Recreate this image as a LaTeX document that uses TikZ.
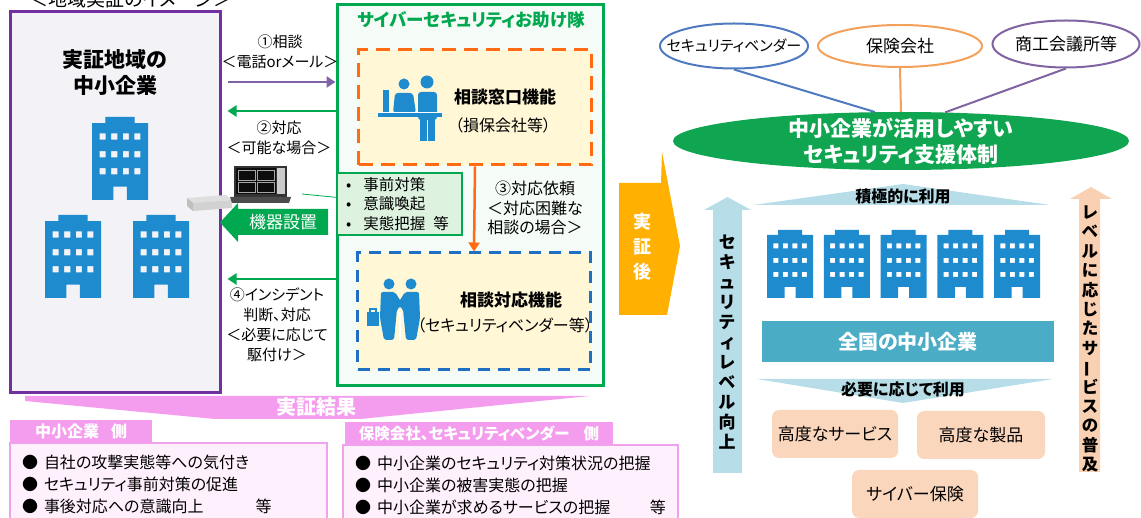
\documentclass[tikz,border=0pt]{standalone}
\usepackage{fontspec}
\setmainfont{Noto Sans CJK JP}[RawFeature=+palt]
\usetikzlibrary{arrows.meta,shapes.geometric,positioning,calc}
\definecolor{smeViolet}{HTML}{7030A0}
\definecolor{smeFill}{HTML}{F3F3F7}
\definecolor{callViolet}{HTML}{7F62A8}
\definecolor{aidGreen}{HTML}{00A84F}
\definecolor{aidFill}{HTML}{F5FBF6}
\definecolor{noteGreen}{HTML}{DDF3E0}
\definecolor{deskOrange}{HTML}{FF6A13}
\definecolor{deskBlue}{HTML}{1F6FC3}
\definecolor{deskFill}{HTML}{FFF7D6}
\definecolor{bldgBlue}{HTML}{1E8BCF}
\definecolor{resPink}{HTML}{F49DEE}
\definecolor{resFill}{HTML}{FFF0FE}
\definecolor{resLine}{HTML}{EFA3EC}
\definecolor{afterGold}{HTML}{FFB000}
\definecolor{vendorBlue}{HTML}{4F7AC0}
\definecolor{insOrange}{HTML}{F2A05A}
\definecolor{chamberViolet}{HTML}{8064A2}
\definecolor{baseGreen}{HTML}{10A550}
\definecolor{skyBlue}{HTML}{B7DEE8}
\definecolor{barTeal}{HTML}{4BACC6}
\definecolor{peach}{HTML}{FAD6BD}
\definecolor{arrowPeach}{HTML}{F9D0B2}

\begin{document}
\begin{tikzpicture}[x=1pt, y=-1pt,
    panel/.style={draw, line width=3pt, inner sep=0pt},
    desk/.style={draw, dash pattern=on 14pt off 8pt, line width=3pt, fill=deskFill,
      minimum width=233pt, minimum height=115pt, inner sep=0pt},
    lbl/.style={font=\fontsize{15}{20}\selectfont, align=center, inner sep=0pt},
    call/.style={line width=2.5pt, -{Triangle[length=9pt, width=11pt]}},
    icon/.style={fill=bldgBlue},
    resbox/.style={font=\fontsize{16}{22}\selectfont, align=left, inner xsep=12pt, inner ysep=0pt,
      fill=resFill, draw=resLine, line width=2.5pt},
    sidetab/.style={fill=resPink, text=white, font=\bfseries\fontsize{16}{16}\selectfont, inner sep=0pt},
    party/.style={ellipse, draw, line width=2pt, font=\fontsize{17}{17}\selectfont, inner sep=0pt},
    offer/.style={rounded corners=7pt, fill=peach, font=\fontsize{17}{17}\selectfont,
      minimum width=126pt, minimum height=48pt, inner sep=0pt},
    vtext/.style={font=\bfseries\fontsize{17}{20}\selectfont, align=center, inner sep=0pt},
    office/.pic={
      \fill[bldgBlue, even odd rule] (0,5) -- (11,5) -- (11,0) -- (35,0) -- (35,5) -- (46,5)
        -- (46,68) -- (28.5,68) -- (28.5,57) -- (17.5,57) -- (17.5,68) -- (0,68) -- cycle
        foreach \r in {13.5,28,42} {foreach \c in {6.25,15.75,25.25,34.75} {(\c,\r) rectangle ++(5,5)}};
    }
  ]
  \useasboundingbox (0,0) rectangle (1141,518);
  \clip (0,0) rectangle (1141,518);

  \node[font=\fontsize{19}{19}\selectfont, inner sep=0pt] (title) at (131,-1) {＜地域実証のイメージ＞};

  % regional SMEs
  \node[panel, draw=smeViolet, fill=smeFill, minimum width=210pt, minimum height=381pt] (sme) at (115,202.5) {};
  \node[font=\bfseries\fontsize{21}{26}\selectfont, align=center, inner sep=0pt] (smetitle) at (115,73) {実証地域の\\中小企業};
  \pic[scale=1.22] (co1) at (92,117) {office};
  \pic[scale=1.22] (co2) at (45,215) {office};
  \pic[scale=1.22] (co3) at (133,215) {office};

  % help team
  \node[panel, draw=aidGreen, fill=aidFill, minimum width=266pt, minimum height=381pt] (aid) at (470,195.5) {};
  \node[font=\bfseries\fontsize{17.5}{17.5}\selectfont, text=aidGreen, inner sep=0pt] (aidtitle) at (471,20) {サイバーセキュリティお助け隊};
  \node[desk, draw=deskOrange] (helpdesk) at (475,107.5) {};
  \node[desk, draw=deskBlue, dash pattern=on 12pt off 8pt, minimum height=117pt] (respond) at (474,311.5) {};
  \node[font=\bfseries\fontsize{17}{17}\selectfont, inner sep=0pt] (helpname) at (505,97) {相談窓口機能};
  \node[font=\fontsize{16}{16}\selectfont, inner sep=0pt] (helpwho) at (503,125) {（損保会社等）};
  \node[font=\bfseries\fontsize{17}{17}\selectfont, inner sep=0pt] (respname) at (511,300) {相談対応機能};
  \node[font=\fontsize{16}{16}\selectfont, inner sep=0pt] (respwho) at (505,325) {（セキュリティベンダー等）};

  % counter icon
  \fill[icon] (383,90) rectangle (389,113);
  \fill[icon] (404,84) circle (5.5);
  \fill[icon, rounded corners=3pt] (395,93) -- (413,93) -- (416,113) -- (393,113) -- cycle;
  \fill[icon] (427,82) circle (6.5);
  \fill[icon, rounded corners=3pt] (418,92) rectangle (437,120);
  \fill[icon] (420,116) rectangle (426.5,141);
  \fill[icon] (428,116) rectangle (434.5,141);
  \fill[white] (376,112) rectangle (444,113.5);
  \fill[icon] (378,113.5) rectangle (442,117);

  % handshake icon
  \fill[icon] (389,284) circle (5.5);
  \fill[icon] (411,284) circle (5.5);
  \fill[icon, rounded corners=2pt] (381,292) -- (395,292) -- (403,305) -- (397,309) -- (394,340) -- (384,340) -- (380,318) -- cycle;
  \fill[icon, rounded corners=2pt] (419,292) -- (405,292) -- (397,305) -- (403,309) -- (406,340) -- (416,340) -- (420,318) -- cycle;
  \fill[white] (399.3,312) rectangle (400.7,341);
  \fill[icon] (367,312) rectangle (379,326);
  \draw[bldgBlue, line width=1.2pt] (370,312) -- (370,309) -- (376,309) -- (376,312);

  \draw[call, draw=deskOrange] (helpdesk.south) -- (respond.north);
  \node[font=\fontsize{16}{19.5}\selectfont, align=center, inner sep=0pt] (escalate) at (535,208) {③対応依頼\\＜対応困難な\\相談の場合＞};
  \node[draw=aidGreen, line width=1.2pt, fill=noteGreen, minimum width=125pt, minimum height=62pt,
    text width=107pt, inner xsep=9pt, inner ysep=0pt, align=left, font=\fontsize{15.5}{19.5}\selectfont] (notes) at (399.5,204)
    {•\hspace{12pt}事前対策\\•\hspace{12pt}意識喚起\\•\hspace{12pt}実態把握\hspace{8pt}等};

  % requests and replies
  \draw[call, draw=callViolet, shorten <=6pt] (sme.east |- 0,82) -- (aid.west |- 0,82);
  \draw[call, draw=aidGreen, shorten >=6pt] (aid.west |- 0,111) -- (sme.east |- 0,111);
  \draw[call, draw=aidGreen, shorten >=6pt] (aid.west |- 0,279) -- (sme.east |- 0,279);
  \node[lbl] (ask) at (280,52) {①相談\\＜電話orメール＞};
  \node[lbl] (reply) at (279,138) {②対応\\＜可能な場合＞};
  \node[lbl] (incident) at (277,325) {④インシデント\\判断、対応\\＜必要に応じて\\駆付け＞};

  % measuring device and laptop
  \fill[gray!25] (187,198) -- (226,195) -- (232,200) -- (193,203) -- cycle;
  \fill[gray!50] (187,198) -- (193,203) -- (193,211) -- (187,206) -- cycle;
  \fill[gray!35] (193,203) -- (232,200) -- (232,208) -- (193,211) -- cycle;
  \fill[black!80] (234,166) rectangle (287,197);
  \fill[black!95] (236,168) rectangle (276,194);
  \draw[gray!70, line width=0.5pt] (238,170) rectangle (255,180) (257,170) rectangle (274,180)
    (238,182) rectangle (255,192) (257,182) rectangle (274,192);
  \fill[gray!40] (277,168) rectangle (285,194);
  \fill[black!70] (230,197) -- (291,197) -- (289,203) -- (232,203) -- cycle;
  \coordinate (pc) at (302,194);
  \draw[aidGreen, line width=0.8pt] (pc) -- (notes.174);
  \fill[aidGreen] (220,222.5) -- (238,203) -- (238,209) -- (328,209) -- (328,235) -- (238,235) -- (238,242) -- cycle;
  \node[text=white, font=\fontsize{17}{17}\selectfont, inner sep=0pt] (setup) at (283,222) {機器設置};

  % results
  \fill[resPink] (25,396) -- (590,396) -- (360,419) -- (215,419) -- (25,401) -- cycle;
  \node[font=\bfseries\fontsize{20}{20}\selectfont, text=white, inner sep=0pt] (result) at (316,407) {実証結果};
  \node[resbox, minimum width=317pt, minimum height=82pt, text width=293pt] (smeres) at (168.5,484)
    {●\hspace{6pt}自社の攻撃実態等への気付き\\●\hspace{6pt}セキュリティ事前対策の促進\\●\hspace{6pt}事後対応への意識向上\hspace{52pt}等\hfill\mbox{}};
  \node[sidetab, minimum width=142pt, minimum height=23pt] (smetab) at (81,431.5) {中小企業\hspace{12pt}側};
  \node[resbox, minimum width=335pt, minimum height=80pt, text width=311pt] (venres) at (510.5,485)
    {●\hspace{6pt}中小企業のセキュリティ対策状況の把握\\●\hspace{6pt}中小企業の被害実態の把握\\●\hspace{6pt}中小企業が求めるサービスの把握\hfill 等};
  \node[sidetab, minimum width=268pt, minimum height=23pt, font=\bfseries\fontsize{15.5}{15.5}\selectfont] (ventab) at (479,433.5) {保険会社、セキュリティベンダー\hspace{14pt}側};

  % after the trial
  \fill[afterGold] (619,183) -- (661,183) -- (662,152) -- (680,246) -- (667,315) -- (619,315) -- cycle;
  \node[vtext, text=white, font=\bfseries\fontsize{18}{25}\selectfont] (after) at (642,247) {実\\証\\後};

  \node[party, draw=vendorBlue, minimum width=148pt, minimum height=45pt] (vendor) at (734,46) {\makebox[0pt]{\fontsize{15}{15}\selectfont セキュリティベンダー}};
  \node[party, draw=insOrange, minimum width=164pt, minimum height=42pt] (insurer) at (900,46) {\makebox[0pt]{保険会社}};
  \node[party, draw=chamberViolet, minimum width=147pt, minimum height=47pt] (chamber) at (1066,44) {\makebox[0pt]{商工会議所等}};
  \node[ellipse, fill=baseGreen, minimum width=456pt, minimum height=58pt, inner sep=0pt] (system) at (901,141) {};
  \node[text=white, inner sep=0pt, font=\bfseries\fontsize{21}{26}\selectfont, align=center] (systemname) at (system.center) {中小企業が活用しやすい\\セキュリティ支援体制};
  \draw[vendorBlue, line width=2pt] (vendor.south) -- (system.132);
  \draw[insOrange, line width=2pt] (insurer.south) -- (system.north);
  \draw[chamberViolet, line width=2pt] (chamber.south) -- (system.33);

  \fill[skyBlue] (713,473) -- (713,210) -- (704,210) -- (727.5,197) -- (751,210) -- (742,210) -- (742,473) -- cycle;
  \fill[arrowPeach] (1079,472) -- (1079,199) -- (1070,199) -- (1091,187) -- (1112,199) -- (1100,199) -- (1100,472) -- cycle;
  \node[vtext] (seclevel) at (727,342) {セ\\キ\\ュ\\リ\\テ\\ィ\\レ\\ベ\\ル\\向\\上};
  \node[vtext, font=\bfseries\fontsize{16.5}{19.4}\selectfont] (spread) at (1090,339)
    {レ\\ベ\\ル\\に\\応\\じ\\た\\サ\\\rotatebox[origin=c]{90}{ー}\\ビ\\ス\\の\\普\\及};

  \fill[skyBlue] (753,205) -- (903,184) -- (1050,205) -- cycle;
  \node[font=\bfseries\fontsize{16}{16}\selectfont, inner sep=0pt] (active) at (903,196) {積極的に利用};
  \foreach \i in {0,...,4}
    \pic (row\i) at (767+56.75*\i,230) {office};
  \node[fill=barTeal, minimum width=292pt, minimum height=41pt, text=white, inner sep=0pt,
    font=\bfseries\fontsize{20}{20}\selectfont] (nation) at (908,341.5) {全国の中小企業};
  \fill[skyBlue] (757,379) -- (1053,379) -- (903,403) -- cycle;
  \node[font=\bfseries\fontsize{16}{16}\selectfont, inner sep=0pt] (asneeded) at (903,389) {必要に応じて利用};

  \node[offer] (service) at (835,434) {高度なサービス};
  \node[offer, minimum width=128pt] (product) at (981,435) {高度な製品};
  \node[offer] (cyberins) at (915,494) {サイバー保険};
\end{tikzpicture}
\end{document}
